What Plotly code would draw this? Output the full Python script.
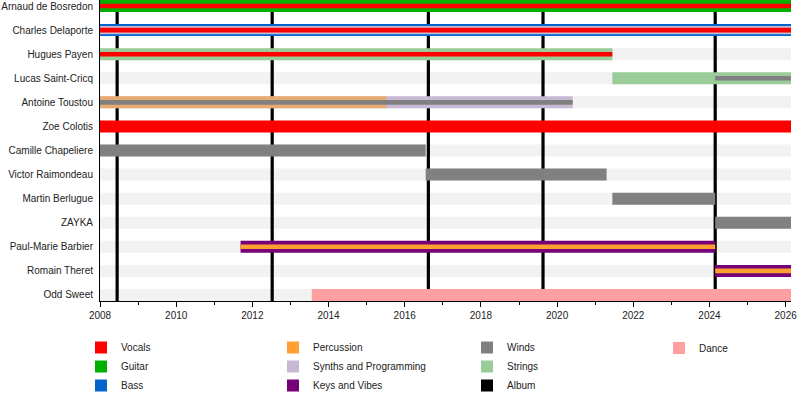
import plotly.graph_objects as go

START = 2008.0
END = 2026.14

MEMBERS = ["Arnaud de Bosredon", "Charles Delaporte", "Hugues Payen", "Lucas Saint-Cricq",
           "Antoine Toustou", "Zoe Colotis", "Camille Chapeliere", "Victor Raimondeau",
           "Martin Berlugue", "ZAYKA", "Paul-Marie Barbier", "Romain Theret", "Odd Sweet"]

# (member, from, to, role)  role 1 = main bar, 2 = second stripe, 3 = thin stripe
GUITAR = [("Arnaud de Bosredon", 2008.0, END, 1)]
BASS = [("Charles Delaporte", 2008.0, END, 1)]
STRINGS = [("Hugues Payen", 2008.0, 2021.45, 1), ("Lucas Saint-Cricq", 2021.45, END, 1)]
SYNTHS = [("Antoine Toustou", 2008.0, 2020.41, 1), ("Charles Delaporte", 2008.0, END, 2)]
KEYS = [("Paul-Marie Barbier", 2011.69, 2024.15, 1), ("Romain Theret", 2024.15, END, 1)]
DANCE = [("Odd Sweet", 2013.56, END, 1)]
PERCUSSION = [("Paul-Marie Barbier", 2011.69, 2024.15, 3), ("Romain Theret", 2024.15, END, 3),
              ("Antoine Toustou", 2008.0, 2015.52, 1)]
VOCALS = [("Zoe Colotis", 2008.0, END, 1), ("Arnaud de Bosredon", 2008.0, END, 3),
          ("Charles Delaporte", 2008.0, END, 3), ("Hugues Payen", 2008.0, 2021.45, 3)]
WINDS = [("Camille Chapeliere", 2008.0, 2016.55, 1), ("Victor Raimondeau", 2016.55, 2021.3, 1),
         ("Martin Berlugue", 2021.45, 2024.15, 1), ("ZAYKA", 2024.15, END, 1),
         ("Antoine Toustou", 2008.0, 2020.41, 3), ("Lucas Saint-Cricq", 2024.15, END, 3)]

ALBUMS = [2008.45, 2012.52, 2016.62, 2019.63, 2024.15]

# drawing order (later on top), with legend column and rank
roles = [
    ("Guitar", GUITAR, "#00b000", "legend", 2),
    ("Bass", BASS, "#0066cc", "legend", 3),
    ("Strings", STRINGS, "#99cc99", "legend3", 2),
    ("Synths and Programming", SYNTHS, "#c8b8d4", "legend2", 2),
    ("Keys and Vibes", KEYS, "#770077", "legend2", 3),
    ("Dance", DANCE, "#ffa0a0", "legend4", 1),
    ("Percussion", PERCUSSION, "#ffa030", "legend2", 1),
    ("Vocals", VOCALS, "#ff0000", "legend", 1),
    ("Winds", WINDS, "#808080", "legend3", 1),
]
bar_width = {1: 0.5, 2: 0.34, 3: 0.19}
FONT = "Liberation Sans, Arial, sans-serif"

fig = go.Figure()

n = len(MEMBERS)
# light row stripes, then album lines, all behind the bars
for i in range(n):
    fig.add_shape(type="rect", xref="x", yref="y", x0=START, x1=END, y0=i - 0.25, y1=i + 0.25,
                  fillcolor="#f2f2f2", line_width=0, layer="below")
for k, a in enumerate(ALBUMS):
    fig.add_shape(type="rect", xref="x", yref="y", x0=a - 0.042, x1=a + 0.042,
                  y0=-0.25, y1=n - 0.75,
                  fillcolor="black", line_width=0, layer="below",
                  showlegend=(k == 0), name="Album", legend="legend3", legendrank=3)

has_main = set()
for name, rows, color, leg, rank in roles:
    opac = []
    for m, s, e, r in rows:
        if r == 1 and m in has_main:
            opac.append(0.6)
        else:
            opac.append(1.0)
        if r == 1:
            has_main.add(m)
    fig.add_trace(go.Bar(
        orientation="h",
        y=[m for m, s, e, r in rows],
        base=[s for m, s, e, r in rows],
        x=[e - s for m, s, e, r in rows],
        width=[bar_width[r] for m, s, e, r in rows],
        marker=dict(color=color, opacity=opac, line_width=0),
        name=name, legend=leg, legendrank=rank, hoverinfo="name+y",
    ))

leg_style = dict(xanchor="left", yanchor="top", y=-0.108, bgcolor="rgba(0,0,0,0)",
                 font=dict(size=10, color="#222", family=FONT), itemwidth=30,
                 tracegroupgap=0, traceorder="normal")

fig.update_layout(
    width=800, height=400,
    margin=dict(l=100, r=9, t=0, b=99),
    plot_bgcolor="white", paper_bgcolor="white",
    font=dict(family=FONT, size=10, color="#222"),
    barmode="overlay",
    xaxis=dict(range=[START, END], tick0=2008, dtick=2, tickformat="d",
               ticks="outside", ticklen=5, tickcolor="black",
               minor=dict(dtick=1, ticks="outside", ticklen=3, tickcolor="black"),
               showline=True, linecolor="black", linewidth=1,
               showgrid=False, zeroline=False, automargin=False),
    yaxis=dict(type="category", categoryarray=MEMBERS, categoryorder="array",
               range=[n - 0.75, -0.25], showline=True, linecolor="black",
               linewidth=1, showgrid=False, ticks="", ticklabelstandoff=4,
               automargin=False),
    legend=dict(x=-0.0275, **leg_style),
    legend2=dict(x=0.2504, **leg_style),
    legend3=dict(x=0.5311, **leg_style),
    legend4=dict(x=0.809, **leg_style),
)

# drop the page's default body margin so the 800x400 figure fills the window
fig.write_html("out.html", config={"displayModeBar": False},
               post_script="document.body.style.margin = '0';")
